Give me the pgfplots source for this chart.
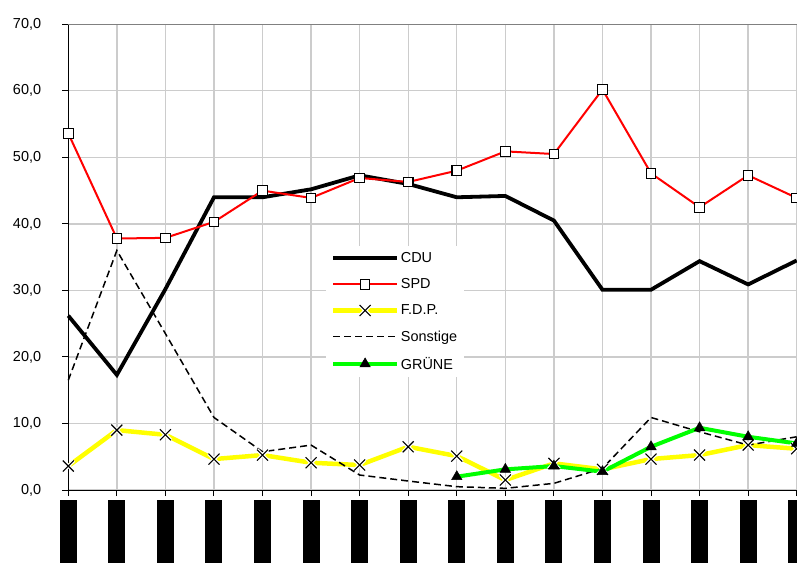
\documentclass[border=0pt]{standalone}
\usepackage{pgfplots}
\pgfplotsset{compat=1.18}
\usepackage{fontspec}
\setmainfont{Liberation Sans}
\pgfdeclareplotmark{wx}{%
  \pgfsetlinewidth{3.5bp}\pgfsetstrokecolor{white}%
  \pgfpathmoveto{\pgfqpoint{-\pgfplotmarksize}{-\pgfplotmarksize}}%
  \pgfpathlineto{\pgfqpoint{\pgfplotmarksize}{\pgfplotmarksize}}%
  \pgfpathmoveto{\pgfqpoint{-\pgfplotmarksize}{\pgfplotmarksize}}%
  \pgfpathlineto{\pgfqpoint{\pgfplotmarksize}{-\pgfplotmarksize}}%
  \pgfusepathqstroke
  \pgfsetlinewidth{1.1bp}\pgfsetstrokecolor{black}%
  \pgfpathmoveto{\pgfqpoint{-\pgfplotmarksize}{-\pgfplotmarksize}}%
  \pgfpathlineto{\pgfqpoint{\pgfplotmarksize}{\pgfplotmarksize}}%
  \pgfpathmoveto{\pgfqpoint{-\pgfplotmarksize}{\pgfplotmarksize}}%
  \pgfpathlineto{\pgfqpoint{\pgfplotmarksize}{-\pgfplotmarksize}}%
  \pgfusepathqstroke}
\definecolor{gridgray}{RGB}{204,204,204}
\definecolor{fdpyellow}{RGB}{255,255,0}
\definecolor{gruen}{RGB}{0,255,0}
\begin{document}
\begin{tikzpicture}
\begin{axis}[
  at={(68.3bp,73bp)}, anchor=south west,
  scale only axis,
  width=728.4bp, height=465.7bp,
  xmin=0, xmax=15, ymin=0, ymax=70,
  xtick={0,...,15},
  xticklabels={\rule{17bp}{64bp},\rule{17bp}{64bp},\rule{17bp}{64bp},\rule{17bp}{64bp},\rule{17bp}{64bp},\rule{17bp}{64bp},\rule{17bp}{64bp},\rule{17bp}{64bp},\rule{17bp}{64bp},\rule{17bp}{64bp},\rule{17bp}{64bp},\rule{17bp}{64bp},\rule{17bp}{64bp},\rule{17bp}{64bp},\rule{17bp}{64bp},\rule{17bp}{64bp}},
  xticklabel style={anchor=north, inner sep=0pt, yshift=-4bp},
  ytick={0,10,...,70},
  yticklabel style={font=\fontsize{14.5}{16}\selectfont, inner sep=0pt, xshift=-21bp, anchor=east},
  /pgf/number format/assume math mode=true,
  /pgf/number format/.cd, fixed, fixed zerofill, precision=1, use comma, /tikz/.cd,
  axis x line*=bottom, axis y line*=left,
  axis line style={-, black, line width=1bp},
  tick align=outside, major tick length=6bp,
  tick style={black, line width=1bp},
  grid=major,
  grid style={gridgray, line width=1.3bp},
  clip=false,
  legend style={at={(axis cs:5.3,36.7)}, anchor=north west, draw=none, fill=white,
    font=\fontsize{14.5}{16}\selectfont, inner xsep=5bp, inner ysep=5bp,
    row sep=11.5bp, nodes={inner sep=1.5bp, anchor=west}},
  legend cell align=left,
  legend image code/.code={\draw[mark repeat=2,mark phase=2,#1] plot coordinates {(0bp,0bp) (32bp,0bp) (64bp,0bp)};},
]
\draw[gray, line width=1bp] (axis cs:0,70) -- (axis cs:15,70);
\addplot[black, line width=3.8bp, no marks] coordinates {
(0,26.2) (1,17.3) (2,30.2) (3,44.0) (4,44.0) (5,45.2) (6,47.3) (7,46.0) (8,44.0) (9,44.2) (10,40.5) (11,30.1) (12,30.1) (13,34.4) (14,30.9) (15,34.5)};
\addlegendentry{CDU}
\addplot[red, line width=2bp, mark=square*, mark size=4.8bp, mark options={fill=white, draw=black, line width=1.1bp, solid}] coordinates {
(0,53.6) (1,37.8) (2,37.9) (3,40.3) (4,45.0) (5,43.9) (6,46.9) (7,46.3) (8,48.0) (9,50.9) (10,50.5) (11,60.2) (12,47.6) (13,42.5) (14,47.3) (15,43.9)};
\addlegendentry{SPD}
\addplot[fdpyellow, line width=4.5bp, mark=wx, mark size=5.5bp] coordinates {
(0,3.6) (1,9.0) (2,8.3) (3,4.65) (4,5.25) (5,4.1) (6,3.75) (7,6.5) (8,5.1) (9,1.5) (10,4.0) (11,3.1) (12,4.65) (13,5.25) (14,6.75) (15,6.2)};
\addlegendentry{F.D.P.}
\addplot[black, line width=1.5bp, dash pattern=on 7bp off 4bp, no marks] coordinates {
(0,16.5) (1,36.0) (2,23.5) (3,10.9) (4,5.75) (5,6.75) (6,2.25) (7,1.35) (8,0.5) (9,0.25) (10,1.0) (11,3.25) (12,10.9) (13,8.75) (14,6.75) (15,8.0)};
\addlegendentry{Sonstige}
\addplot[gruen, line width=4bp, mark=triangle*, mark size=6bp, mark options={fill=black, draw=black, solid, line width=0.5bp}] coordinates {
(8,2.0) (9,3.1) (10,3.6) (11,2.75) (12,6.5) (13,9.35) (14,8.0) (15,7.0)};
\addlegendentry{GRÜNE}
\end{axis}
\pgfresetboundingbox
\useasboundingbox (0,0) rectangle (797bp,563bp);
\end{tikzpicture}
\end{document}
